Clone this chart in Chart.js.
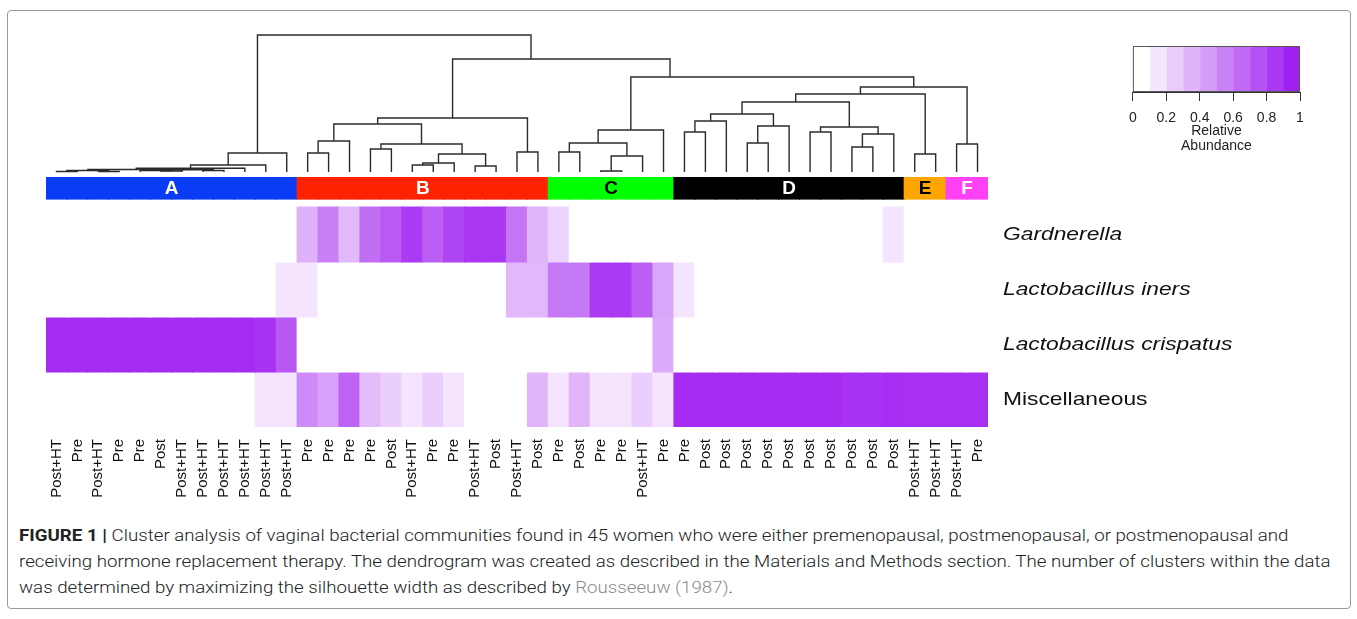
<!DOCTYPE html>
<html>
<head>
<meta charset="utf-8">
<script src="https://cdn.jsdelivr.net/npm/chart.js@4.4.1/dist/chart.umd.min.js"></script>
<style>
  body { margin: 0; background: #fff; width: 1357px; height: 619px; overflow: hidden; position: relative; font-family: "Liberation Sans", Arial, sans-serif; }
  .frame { position: absolute; left: 7px; top: 10px; width: 1342px; height: 597px; border: 1px solid #9a9a9a; border-radius: 4px; }
  canvas { position: absolute; }
  .caption { position: absolute; left: 19px; font-family: Roboto, "Liberation Sans", sans-serif; font-weight: 300; font-size: 17px; line-height: 20px; color: #222; white-space: nowrap; transform: scaleX(1.1); transform-origin: 0 50%; }
  .caption b { font-weight: 700; }
  .caption .ref { color: #8c8c8c; }
</style>
</head>
<body>
<div class="frame"></div>
<canvas id="dend" width="954" height="150" style="left:40px;top:28px"></canvas>
<canvas id="heat" width="1230" height="332" style="left:40px;top:170px"></canvas>
<canvas id="key" width="200" height="117" style="left:1120px;top:38px"></canvas>
<div class="caption" style="top:525px"><b>FIGURE 1 |</b> Cluster analysis of vaginal bacterial communities found in 45 women who were either premenopausal, postmenopausal, or postmenopausal and</div>
<div class="caption" style="top:551px">receiving hormone replacement therapy. The dendrogram was created as described in the Materials and Methods section. The number of clusters within the data</div>
<div class="caption" style="top:577px">was determined by maximizing the silhouette width as described by <span class="ref">Rousseeuw (1987)</span>.</div>
<script>
// sample labels, left to right (dendrogram order)
const sampleGroups = [
  'Post+HT', 'Pre', 'Post+HT', 'Pre', 'Pre', 'Post', 'Post+HT', 'Post+HT', 'Post+HT', 'Post+HT', 'Post+HT', 'Post+HT',
  'Pre', 'Pre', 'Pre', 'Pre', 'Post', 'Post+HT', 'Pre', 'Pre', 'Post+HT', 'Post', 'Post+HT', 'Post',
  'Pre', 'Post', 'Pre', 'Pre', 'Post+HT', 'Pre',
  'Pre', 'Post', 'Post', 'Post', 'Post', 'Post', 'Post', 'Post', 'Post', 'Post', 'Post',
  'Post+HT', 'Post+HT', 'Post+HT', 'Pre'
];

const clusterNames = ['A', 'B', 'C', 'D', 'E', 'F'];
const clusterSizes = [12, 12, 6, 11, 2, 2];

const taxa = ['Gardnerella', 'Lactobacillus iners', 'Lactobacillus crispatus', 'Miscellaneous'];

// relative abundance per sample
const gardnerella = [
  0, 0, 0, 0, 0, 0, 0, 0, 0, 0, 0, 0,
  0.35, 0.57, 0.32, 0.65, 0.74, 0.88, 0.72, 0.84, 0.9, 0.9, 0.62, 0.33,
  0.2, 0, 0, 0, 0, 0,
  0, 0, 0, 0, 0, 0, 0, 0, 0, 0, 0.12,
  0, 0, 0, 0
];
const iners = [
  0, 0, 0, 0, 0, 0, 0, 0, 0, 0, 0, 0.12,
  0.12, 0, 0, 0, 0, 0, 0, 0, 0, 0, 0.32, 0.32,
  0.6, 0.6, 0.88, 0.88, 0.72, 0.4,
  0.12, 0, 0, 0, 0, 0, 0, 0, 0, 0, 0,
  0, 0, 0, 0
];
const crispatus = [
  0.95, 0.95, 0.95, 0.95, 0.95, 0.95, 0.95, 0.95, 0.95, 0.95, 0.92, 0.75,
  0, 0, 0, 0, 0, 0, 0, 0, 0, 0, 0, 0,
  0, 0, 0, 0, 0, 0.38,
  0, 0, 0, 0, 0, 0, 0, 0, 0, 0, 0,
  0, 0, 0, 0
];
const misc = [
  0, 0, 0, 0, 0, 0, 0, 0, 0, 0, 0.12, 0.12,
  0.52, 0.42, 0.7, 0.3, 0.22, 0.12, 0.22, 0.12, 0, 0, 0, 0.33,
  0.12, 0.33, 0.12, 0.12, 0.22, 0.12,
  0.95, 0.95, 0.95, 0.95, 0.95, 0.95, 0.95, 0.95, 0.92, 0.92, 0.94,
  0.93, 0.93, 0.93, 0.93
];

const legendBreaks = [0, 0.1, 0.2, 0.3, 0.4, 0.5, 0.6, 0.7, 0.8, 0.9, 1];
const legendTicks = [0, 0.2, 0.4, 0.6, 0.8, 1];

// hclust-style merges: negative = leaf (-1 is the first sample), positive = earlier merge row
const merges = [
  [-1, -2, 0.004], [-3, -4, 0.004], [1, 2, 0.011], [-6, -7, 0.007], [-5, 4, 0.011],
  [-8, -9, 0.011], [5, 6, 0.016], [3, 7, 0.018], [8, -10, 0.027], [9, -11, 0.051],
  [10, -12, 0.139],
  [-13, -14, 0.139], [12, -15, 0.226], [-16, -17, 0.168], [-18, -19, 0.051], [15, -20, 0.066],
  [-21, -22, 0.044], [16, 17, 0.131], [14, 18, 0.204], [13, 19, 0.350], [-23, -24, 0.146],
  [20, 21, 0.394],
  [-25, -26, 0.146], [-27, -28, 0.007], [24, -29, 0.117], [23, 25, 0.212], [26, -30, 0.307],
  [-31, -32, 0.292], [28, -33, 0.372], [-34, -35, 0.212], [30, -36, 0.336], [29, 31, 0.423],
  [-37, -38, 0.292], [-39, -40, 0.182], [34, -41, 0.277], [33, 35, 0.328], [32, 36, 0.511],
  [-42, -43, 0.131], [37, 38, 0.569], [-44, -45, 0.204], [39, 40, 0.620],
  [27, 41, 0.693], [22, 42, 0.825], [11, 43, 1.000]
];
// merges drawn off their children's midpoint (position in sample units)
const nodeAt = { 42: 29.81, 43: 23.17 };

const clusterColors = ['#0a3cf5', '#ff2200', '#00ff00', '#000000', '#ffa500', '#ff40f4'];
const clusterText = ['#fff', '#fff', '#000', '#fff', '#000', '#fff'];
const purple = [160, 32, 240];
const font = '"Liberation Sans", Arial, sans-serif';

function shade(v) {
  const c = purple.map(p => Math.round(255 + (p - 255) * v));
  return `rgb(${c[0]},${c[1]},${c[2]})`;
}

// ---------- dendrogram ----------
const nodeX = [];
function nodeInfo(id) {
  if (id < 0) return { x: -id - 0.5, h: 0 };
  return { x: nodeX[id - 1], h: merges[id - 1][2] };
}
const dendSets = merges.map(([a, b, h], i) => {
  const L = nodeInfo(a), R = nodeInfo(b);
  nodeX[i] = nodeAt[i + 1] !== undefined ? nodeAt[i + 1] : (L.x + R.x) / 2;
  return {
    data: [{ x: L.x, y: L.h }, { x: L.x, y: h }, { x: R.x, y: h }, { x: R.x, y: R.h }],
    showLine: true, borderColor: '#2b2b2b', borderWidth: 1.4, pointRadius: 0, clip: false
  };
});

new Chart(document.getElementById('dend'), {
  type: 'scatter',
  data: { datasets: dendSets },
  options: {
    responsive: false, animation: false,
    layout: { padding: { left: 6, right: 6, top: 7, bottom: 6 } },
    plugins: { legend: { display: false }, tooltip: { enabled: false } },
    scales: {
      x: { type: 'linear', min: 0, max: sampleGroups.length, display: false },
      y: { type: 'linear', min: 0, max: 1, display: false }
    }
  }
});

// ---------- cluster bar + heatmap ----------
const rowValues = [gardnerella, iners, crispatus, misc];
const barLow = 4.145, barHigh = 4.545;
const clusterOf = [];
clusterSizes.forEach((n, c) => { for (let k = 0; k < n; k++) clusterOf.push(c); });

const heatSets = rowValues.map((vals, r) => ({
  data: vals.map(() => [taxa.length - 1 - r, taxa.length - r]),
  backgroundColor: vals.map(shade)
}));
heatSets.push({
  data: clusterOf.map(() => [barLow, barHigh]),
  backgroundColor: clusterOf.map(c => clusterColors[c])
});
heatSets.forEach(d => Object.assign(d, {
  borderWidth: 0, inflateAmount: 0.6, grouped: false, barPercentage: 1, categoryPercentage: 1
}));

const heatText = {
  id: 'heatText',
  afterDatasetsDraw(chart) {
    const { ctx, chartArea, scales: { x, y } } = chart;
    ctx.save();
    // cluster letters
    ctx.font = 'bold 19px ' + font;
    ctx.textAlign = 'center';
    ctx.textBaseline = 'middle';
    let start = 0;
    clusterSizes.forEach((n, c) => {
      const cx = (x.getPixelForValue(start) + x.getPixelForValue(start + n - 1)) / 2;
      const cy = (y.getPixelForValue(barLow) + y.getPixelForValue(barHigh)) / 2 + 1;
      ctx.fillStyle = clusterText[c];
      ctx.fillText(clusterNames[c], cx, cy);
      start += n;
    });
    // taxon labels
    ctx.textAlign = 'left';
    ctx.fillStyle = '#111';
    taxa.forEach((t, r) => {
      const cy = y.getPixelForValue(taxa.length - 0.5 - r);
      ctx.save();
      ctx.translate(chartArea.right + 15, cy);
      ctx.scale(1.2, 1);
      ctx.font = (t === 'Miscellaneous' ? '' : 'italic ') + '19px ' + font;
      ctx.fillText(t, 0, 0);
      ctx.restore();
    });
    ctx.restore();
  }
};

new Chart(document.getElementById('heat'), {
  type: 'bar',
  data: { labels: sampleGroups, datasets: heatSets },
  options: {
    responsive: false, animation: false,
    layout: { padding: { left: 6, right: 282, top: 7, bottom: 0 } },
    plugins: { legend: { display: false }, tooltip: { enabled: false } },
    scales: {
      x: {
        type: 'category',
        grid: { display: false, drawTicks: false },
        border: { display: false },
        ticks: { autoSkip: false, minRotation: 90, maxRotation: 90, padding: 12, color: '#111', font: { size: 15, family: font } },
        afterFit(s) { s.height = 75; s.paddingLeft = 0; s.paddingRight = 0; }
      },
      y: { type: 'linear', min: 0, max: barHigh, display: false }
    }
  },
  plugins: [heatText]
});

// ---------- colour key ----------
const outline = {
  id: 'outline',
  afterDatasetsDraw(chart) {
    const { ctx, chartArea: a } = chart;
    ctx.save();
    ctx.strokeStyle = '#555';
    ctx.lineWidth = 1;
    ctx.strokeRect(a.left + 0.5, a.top + 0.5, a.width - 1, a.height - 1);
    ctx.restore();
  }
};

new Chart(document.getElementById('key'), {
  type: 'bar',
  data: {
    labels: [''],
    datasets: legendBreaks.slice(0, -1).map((b, k) => ({
      data: [[b, legendBreaks[k + 1]]],
      backgroundColor: shade(k / (legendBreaks.length - 2)),
      borderWidth: 0, inflateAmount: 0.5, grouped: false, barPercentage: 1, categoryPercentage: 1
    }))
  },
  options: {
    indexAxis: 'y',
    responsive: false, animation: false,
    layout: { padding: { left: 10, right: 20, top: 8, bottom: 0 } },
    plugins: { legend: { display: false }, tooltip: { enabled: false } },
    scales: {
      x: {
        type: 'linear', min: 0, max: 1,
        afterBuildTicks(s) { s.ticks = legendTicks.map(v => ({ value: v })); },
        ticks: { padding: 9, color: '#222', font: { size: 14, family: font }, callback: v => String(v) },
        grid: { drawOnChartArea: false, drawTicks: true, tickLength: 9, color: '#333' },
        border: { display: true, color: '#333' },
        title: { display: true, text: ['Relative', 'Abundance'], color: '#222', font: { size: 14, family: font, lineHeight: 1.05 }, padding: { top: 0, bottom: 2 } },
        afterFit(s) { s.height = 63; }
      },
      y: { display: false }
    }
  },
  plugins: [outline]
});
</script>
</body>
</html>
